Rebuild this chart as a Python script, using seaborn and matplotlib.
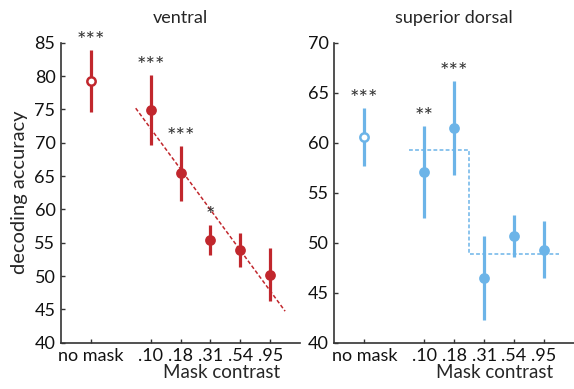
import numpy as np
import seaborn as sns
import matplotlib.pyplot as plt

# mask-contrast conditions (first one is the unmasked baseline)
conditions = ['no mask', '.10', '.18', '.31', '.54', '.95']

# ventral ROI: mean decoding accuracy and error bar half-widths
ventral_mean = [79.3, 74.9, 65.4, 55.4, 53.9, 50.2]
ventral_err = [4.65, 5.3, 4.1, 2.3, 2.5, 4.0]
ventral_stars = ['***', '***', '***', '*', '', '']

# superior dorsal ROI
dorsal_mean = [60.6, 57.1, 61.5, 46.5, 50.7, 49.3]
dorsal_err = [2.9, 4.6, 4.7, 4.2, 2.1, 2.85]
dorsal_stars = ['***', '**', '***', '', '', '']

red = '#c1272d'
blue = '#6cb4e8'
x_pos = np.array([0, 2, 3, 4, 5, 6])

sns.set_style('ticks')
plt.rcParams['font.family'] = ['Lato', 'DejaVu Sans']
plt.rcParams['font.size'] = 13

fig = plt.figure(figsize=(5.74, 3.89), dpi=100)
ax1 = fig.add_axes([0.1063, 0.119, 0.4164, 0.771])
ax2 = fig.add_axes([0.5824, 0.119, 0.4176, 0.771])


def draw_panel(ax, means, errs, stars, color, title, ylim, yticks):
    means = np.array(means)
    errs = np.array(errs)
    ax.errorbar(x_pos, means, yerr=errs, fmt='none', ecolor=color,
                elinewidth=2.3, capsize=0, zorder=2)
    # open marker for the unmasked condition, filled for the rest
    ax.plot(x_pos[:1], means[:1], 'o', ms=6, mfc='white', mec=color,
            mew=1.8, zorder=3)
    sns.scatterplot(x=x_pos[1:], y=means[1:], ax=ax, color=color, s=60,
                    edgecolor=color, linewidth=0, zorder=3)
    for xp, m, e, s in zip(x_pos, means, errs, stars):
        if s:
            ax.annotate(s, (xp, m + e), xytext=(0, -1), textcoords='offset points',
                        ha='center', va='bottom', fontsize=16, color='#333333')
    ax.set_xlim(-1, 7)
    ax.set_ylim(*ylim)
    ax.set_yticks(yticks)
    ax.set_xticks(x_pos)
    ax.set_xticklabels(conditions)
    ax.set_title(title, fontsize=13, pad=14)
    ax.set_xlabel('Mask contrast', fontsize=13.5)
    ax.xaxis.set_label_coords(0.67, -0.072)
    for sp in ['top', 'right']:
        ax.spines[sp].set_visible(False)
    for sp in ['left', 'bottom']:
        ax.spines[sp].set_color('#333333')
        ax.spines[sp].set_linewidth(1.2)
    ax.tick_params(direction='in', length=3, width=1, color='#333333',
                   labelcolor='#111111', labelsize=13, pad=4)


draw_panel(ax1, ventral_mean, ventral_err, ventral_stars, red, 'ventral',
           (40, 85), range(40, 86, 5))
draw_panel(ax2, dorsal_mean, dorsal_err, dorsal_stars, blue, 'superior dorsal',
           (40, 70), range(40, 71, 5))

# linear fit across masked conditions (ventral)
slope, icpt = np.polyfit(x_pos[1:], ventral_mean[1:], 1)
fx = np.array([1.5, 6.5])
ax1.plot(fx, icpt + slope * fx, '--', color=red, lw=1.1, dashes=(2.5, 1.5), zorder=1)

# step model (dorsal): low vs high contrast means
m_low = np.mean(dorsal_mean[1:3])
m_high = np.mean(dorsal_mean[3:])
ax2.plot([1.5, 3.5, 3.5, 6.5], [m_low, m_low, m_high, m_high], '--', color=blue,
         lw=1.1, dashes=(2.5, 1.5), zorder=1)

ax1.set_ylabel('decoding accuracy', fontsize=14.5, labelpad=5)

plt.savefig('out.png', dpi=100)
